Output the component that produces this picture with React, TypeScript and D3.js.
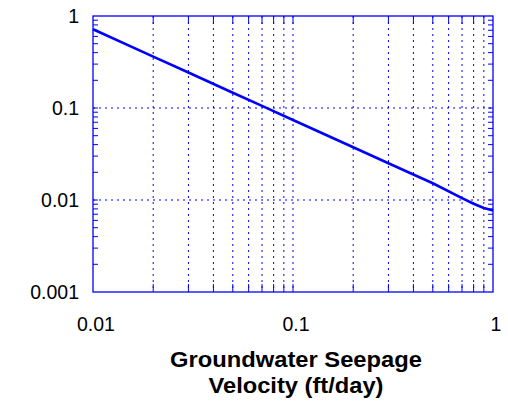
import React from "react";
import * as d3 from "d3";

const xValues = [0.01, 0.02, 0.03, 0.05, 0.07, 0.1, 0.2, 0.3, 0.5, 0.7, 0.8, 0.9, 1];
const yValues = [0.717, 0.362, 0.243, 0.1466, 0.1053, 0.0741, 0.0374, 0.0251, 0.0152, 0.0105, 0.0091, 0.0082, 0.0077];
const xTickLabels = ["0.01", "0.1", "1"];
const yTickLabels = ["0.001", "0.01", "0.1", "1"];
const xTitleLines = ["Groundwater Seepage", "Velocity (ft/day)"];

const W = 508, H = 402;
const L = 93, R = 493, T = 16, B = 292;
const BLUE = "#0000ff";

export default function App() {
  const x = d3.scaleLog().domain([0.01, 1]).range([L, R]);
  const y = d3.scaleLog().domain([0.001, 1]).range([B, T]);

  const xMinor: number[] = [];
  [0.01, 0.1].forEach((d) => { for (let k = 2; k <= 9; k++) xMinor.push(d * k); });
  const yMinor: number[] = [];
  [0.001, 0.01, 0.1].forEach((d) => { for (let k = 2; k <= 9; k++) yMinor.push(d * k); });

  const line = d3.line<number>().x((_, i) => x(xValues[i])).y((d) => y(d));
  const font = "'Liberation Sans', Arial, sans-serif";

  return (
    <svg width={W} height={H} style={{ position: "absolute", left: 0, top: 0 }}>
      <rect width={W} height={H} fill="#fff" />
      {/* vertical dotted grid */}
      {[...xMinor, 0.1].map((v, i) => (
        <line key={"vg" + i} x1={x(v)} x2={x(v)} y1={T} y2={B} stroke={BLUE} strokeWidth={1} strokeDasharray="2,4" />
      ))}
      {/* horizontal dotted grid at majors */}
      {[0.01, 0.1].map((v, i) => (
        <line key={"hg" + i} x1={L} x2={R} y1={y(v)} y2={y(v)} stroke={BLUE} strokeWidth={1} strokeDasharray="2,4" />
      ))}
      {/* x ticks top & bottom */}
      {[...xMinor, 0.1].map((v, i) => (
        <g key={"xt" + i}>
          <line x1={x(v)} x2={x(v)} y1={B} y2={B - 8} stroke={BLUE} strokeWidth={1} />
          <line x1={x(v)} x2={x(v)} y1={T} y2={T + 8} stroke={BLUE} strokeWidth={1} />
        </g>
      ))}
      {/* y ticks left & right */}
      {[...yMinor, 0.01, 0.1].map((v, i) => (
        <g key={"yt" + i}>
          <line x1={L} x2={L + 5} y1={y(v)} y2={y(v)} stroke={BLUE} strokeWidth={1} />
          <line x1={R} x2={R - 5} y1={y(v)} y2={y(v)} stroke={BLUE} strokeWidth={1} />
        </g>
      ))}
      {/* frame */}
      <rect x={L} y={T} width={R - L} height={B - T} fill="none" stroke={BLUE} strokeWidth={1.3} />
      {/* data line */}
      <path d={line(yValues) || ""} fill="none" stroke={BLUE} strokeWidth={2.6} strokeLinejoin="round" />
      {/* y tick labels */}
      {yTickLabels.map((t) => (
        <text key={"yl" + t} x={79} y={y(+t)} dy="0.35em" textAnchor="end" fontFamily={font} fontSize={19.5} fill="#000">{t}</text>
      ))}
      {/* x tick labels */}
      {xTickLabels.map((t) => (
        <text key={"xl" + t} x={x(+t) + 3} y={330.5} textAnchor="middle" fontFamily={font} fontSize={19.5} fill="#000">{t}</text>
      ))}
      {/* x title */}
      {xTitleLines.map((t, i) => (
        <text key={"tt" + i} x={296} y={367.3 + i * 26} textAnchor="middle" fontFamily={font} fontWeight="bold" fontSize={22} fill="#000"
          textLength={i === 0 ? 252 : 175} lengthAdjust="spacingAndGlyphs">{t}</text>
      ))}
    </svg>
  );
}
